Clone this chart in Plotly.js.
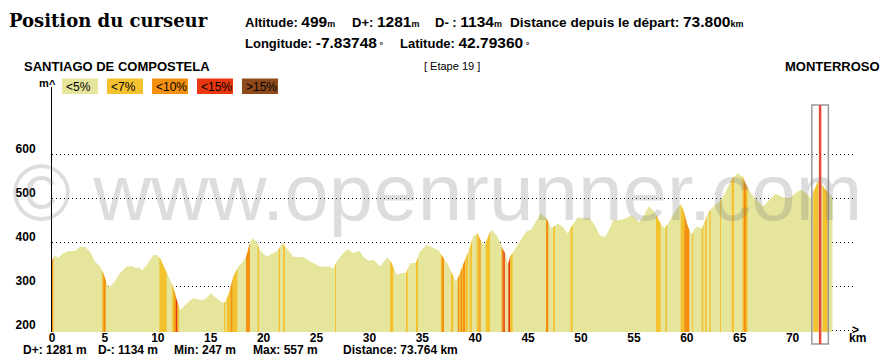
<!DOCTYPE html>
<html><head><meta charset="utf-8">
<script src="https://cdn.plot.ly/plotly-3.0.1.min.js"></script>
<style>html,body{margin:0;padding:0;background:#fff;}#chart{width:894px;height:363px;}</style>
</head><body><div id="chart"></div>
<script>
// ---- data ----
const distKm = [0,0.28,0.6,1.07,1.54,2.17,2.65,3.12,3.59,4.06,4.54,4.85,5.17,5.39,5.8,6.43,7.06,7.53,8.0,8.3,8.47,8.95,9.58,9.89,10.2,10.84,11.47,11.78,12.1,12.73,13.36,13.99,14.46,15.0,15.4,16.04,16.35,16.67,17.14,17.61,18.08,18.4,18.71,18.97,19.34,19.66,20.29,20.92,21.39,21.77,22.18,22.81,23.75,24.39,25.33,26.28,26.59,26.9,27.52,27.99,28.47,29.05,29.42,29.9,30.38,31.0,31.7,32.1,32.58,33.05,33.46,33.84,34.4,34.78,35.41,35.88,36.52,36.99,37.46,37.78,38.18,38.5,38.9,39.4,39.8,40.2,40.5,40.9,41.3,41.6,42.1,42.5,42.9,43.1,43.3,43.7,44.3,44.8,45.3,45.7,46.2,46.7,47.2,47.5,47.8,48.3,48.7,49.2,49.7,50.3,50.8,51.3,51.8,52.3,52.7,53.05,53.5,54.0,54.7,55.1,55.5,55.9,56.4,56.8,57.1,57.6,57.9,58.3,58.6,59.0,59.4,59.7,60.0,60.3,60.5,60.7,61.0,61.4,61.7,62.0,62.5,63.1,63.6,64.2,64.8,65.3,65.6,66.1,66.6,67.2,67.8,68.4,69.1,69.7,70.2,70.8,71.3,71.7,72.1,72.5,73.0,73.5,73.764];
const altM = [360,371,364,375,380,380,390,389,379,356,345,330,307,297,307,330,345,346,341,343,335,348,371,371,364,330,299,269,246,261,273,269,270,284,276,263,263,280,322,345,356,371,398,409,401,382,367,376,382,399,386,367,366,356,345,345,339,356,375,384,375,380,367,358,360,345,366,352,326,330,330,352,353,379,394,389,382,364,348,330,310,326,352,382,413,420,405,392,420,428,413,390,371,348,367,382,405,424,429,447,466,455,432,436,443,434,420,439,457,454,455,439,415,412,430,451,450,452,460,455,445,459,481,473,462,439,432,445,459,473,487,473,443,424,417,430,436,430,447,466,481,492,511,542,557,549,530,511,496,481,496,510,502,500,510,520,511,500,522,543,522,511,503];

// slope strips: start km, end km, slope class index (1 = <7%, 2 = <10%, 3 = <15%)
const stripStartKm = [0,4.72,4.85,10.15,11.35,11.55,11.72,11.87,16.26,16.51,16.89,17.08,18.34,19.44,21.42,21.86,26.75,31.95,33.46,34.4,36.75,36.85,37.72,38.35,38.5,38.6,38.75,38.85,39.08,39.2,39.45,39.6,40.14,40.39,41.0,42.5,42.66,43.13,43.29,46.69,47.38,49.02,57.09,57.98,59.42,59.76,60.5,61.4,61.72,62.13,63.14,64.24,65.25,65.38,65.6,71.96,72.84];
const stripEndKm   = [0.12,4.85,5.08,10.84,11.55,11.72,11.87,12.0,16.38,16.89,17.08,17.52,18.71,19.57,21.55,22.02,26.84,32.26,33.62,34.6,36.85,37.05,37.93,38.5,38.6,38.75,38.85,39.06,39.2,39.32,39.57,39.7,40.39,40.51,41.4,42.66,42.8,43.29,43.54,46.91,47.54,49.21,57.53,58.13,59.76,60.24,60.6,61.56,61.88,62.26,63.23,64.46,65.38,65.6,65.75,72.43,73.37];
const stripClass   = [2,1,2,1,1,2,3,1,1,1,2,1,2,1,1,1,1,1,1,1,1,2,1,2,1,2,1,2,1,1,1,1,1,2,1,2,3,3,1,2,1,1,1,1,1,2,1,1,1,1,1,1,1,2,1,1,1];

const classLabels = ['<5%','<7%','<10%','<15%','>15%'];
const classColors = ['#e5e59c','#f5c22f','#f4900f','#e9380f','#8f4a1c'];
const xTickVals = [0,5,10,15,20,25,30,35,40,45,50,55,60,65,70];
const yTickVals = [200,300,400,500,600];
const cursorKm = 72.6;
const cursorAlt = 499, cursorDplus = 1281, cursorDminus = 1134, cursorDist = '73.800';
const cursorLon = '-7.83748', cursorLat = '42.79360';
const startName = 'SANTIAGO DE COMPOSTELA', endName = 'MONTERROSO', stageLabel = '[ Etape 19 ]';
const statDplus = 1281, statDminus = 1134, statMin = 247, statMax = 557, statDist = '73.764';

// ---- geometry ----
const W = 894, H = 363, L = 52, R = 41, T = 87, B = 31;
const PW = W - L - R, PH = H - T - B;
const px2x = p => (p - L) / PW;
const py2y = p => (H - B - p) / PH;

function altAt(k) {
  for (let i = 1; i < distKm.length; i++) {
    if (k <= distKm[i]) {
      const t = (k - distKm[i-1]) / (distKm[i] - distKm[i-1]);
      return altM[i-1] + t * (altM[i] - altM[i-1]);
    }
  }
  return altM[altM.length-1];
}

const traces = [{
  type: 'scatter', x: distKm, y: altM, mode: 'lines', line: {width: 0, color: classColors[0]},
  fill: 'tozeroy', fillcolor: classColors[0], hoverinfo: 'skip'
}];
for (let s = 0; s < stripStartKm.length; s++) {
  const a = stripStartKm[s], b = stripEndKm[s];
  const xs = [a], ys = [altAt(a)];
  distKm.forEach((k, i) => { if (k > a && k < b) { xs.push(k); ys.push(altM[i]); } });
  xs.push(b); ys.push(altAt(b));
  traces.push({type: 'scatter', x: xs, y: ys, mode: 'lines', line: {width: 0, color: classColors[stripClass[s]]},
    fill: 'tozeroy', fillcolor: classColors[stripClass[s]], hoverinfo: 'skip'});
}

const SANS = 'Liberation Sans, Arial, sans-serif';
function ann(text, px, py, size, opts) {
  return Object.assign({xref: 'paper', yref: 'paper', x: px2x(px), y: py2y(py), text: text, showarrow: false,
    xanchor: 'left', yanchor: 'middle', font: {family: SANS, size: size, color: '#000'}}, opts || {});
}
const big = s => '<span style="font-size:15.5px">' + s + '</span>';
const sm = s => '<span style="font-size:9px">' + s + '</span>';

const annotations = [
  ann('<b>Position du curseur</b>', 7, 20, 18, {font: {family: 'DejaVu Serif, serif', size: 18, color: '#000'}}),
  ann('<b>Altitude: ' + big(cursorAlt) + sm('m') + '</b>', 243, 22, 13),
  ann('<b>D+: ' + big(cursorDplus) + sm('m') + '</b>', 350, 22, 13),
  ann('<b>D- : ' + big(cursorDminus) + sm('m') + '</b>', 433, 22, 13),
  ann('<b>Distance depuis le départ: ' + big(cursorDist) + sm('km') + '</b>', 508, 22, 13.6),
  ann('<b>Longitude: ' + big(cursorLon) + sm(' °') + '</b>', 243, 42, 13),
  ann('<b>Latitude: ' + big(cursorLat) + sm(' °') + '</b>', 398, 42, 13),
  ann('<b>' + startName + '</b>', 22, 66, 13),
  ann(stageLabel, 422, 66, 11),
  ann('<b>' + endName + '</b>', 783, 66, 13),
  ann('<b>m</b>', 37, 83, 11),
  ann('<b>^</b>', 52, 84, 11, {xanchor: 'center'}),
  ann('<b>&gt;</b>', 855, 330, 12, {xanchor: 'center'}),
  ann('<b>km</b>', 857, 338, 12, {xanchor: 'center'}),
  ann('<b>D+: ' + statDplus + ' m</b>', 21, 349.5, 12),
  ann('<b>D-: ' + statDminus + ' m</b>', 96, 349.5, 12),
  ann('<b>Min: ' + statMin + ' m</b>', 172, 349.5, 12),
  ann('<b>Max: ' + statMax + ' m</b>', 251, 349.5, 12),
  ann('<b>Distance: ' + statDist + ' km</b>', 341, 349.5, 12),
  ann('© www.openrunner.com', 437, 192, 80, {xanchor: 'center', font: {family: SANS, size: 80, color: 'rgba(120,120,120,0.25)'}})
];

const shapes = [];
classLabels.forEach((lab, i) => {
  const x0 = 62 + i * 45;
  shapes.push({type: 'rect', xref: 'paper', yref: 'paper', x0: px2x(x0), x1: px2x(x0 + 36), y0: py2y(94), y1: py2y(78.5),
    fillcolor: classColors[i], line: {width: 0}, layer: 'above'});
  annotations.push(ann(lab.replace('<', '&lt;').replace('>', '&gt;'), x0 + 2, 86.5, 12));
});
// cursor
shapes.push({type: 'rect', xref: 'x', yref: 'paper', x0: cursorKm - 0.78, x1: cursorKm + 0.78, y0: py2y(344), y1: py2y(105),
  line: {color: '#9a9a9a', width: 1.5}, fillcolor: 'rgba(0,0,0,0)'});
shapes.push({type: 'line', xref: 'x', yref: 'paper', x0: cursorKm, x1: cursorKm, y0: py2y(344), y1: py2y(105),
  line: {color: '#e8483a', width: 2.5}});

const layout = {
  width: W, height: H, margin: {l: L, r: R, t: T, b: B, pad: 0},
  paper_bgcolor: '#fff', plot_bgcolor: '#fff', showlegend: false, hovermode: false,
  xaxis: {range: [0, PW / 10.58], tickvals: xTickVals, showgrid: false, zeroline: false, showline: false, ticks: '',
    ticklabelstandoff: -3,
    tickfont: {family: SANS, size: 12, color: '#000', weight: 'bold'}, fixedrange: true},
  yaxis: {range: [196, 196 + PH / 0.44], tickvals: yTickVals, showgrid: true, gridcolor: '#000', griddash: '1px,3px', gridwidth: 1,
    zeroline: false, showline: true, linecolor: '#000', linewidth: 1, ticks: '', ticklabelstandoff: 13, ticklabelshift: -5,
    tickfont: {family: SANS, size: 12, color: '#000', weight: 'bold'}, fixedrange: true},
  annotations: annotations, shapes: shapes
};
Plotly.newPlot('chart', traces, layout, {staticPlot: true, displayModeBar: false});
</script></body></html>
